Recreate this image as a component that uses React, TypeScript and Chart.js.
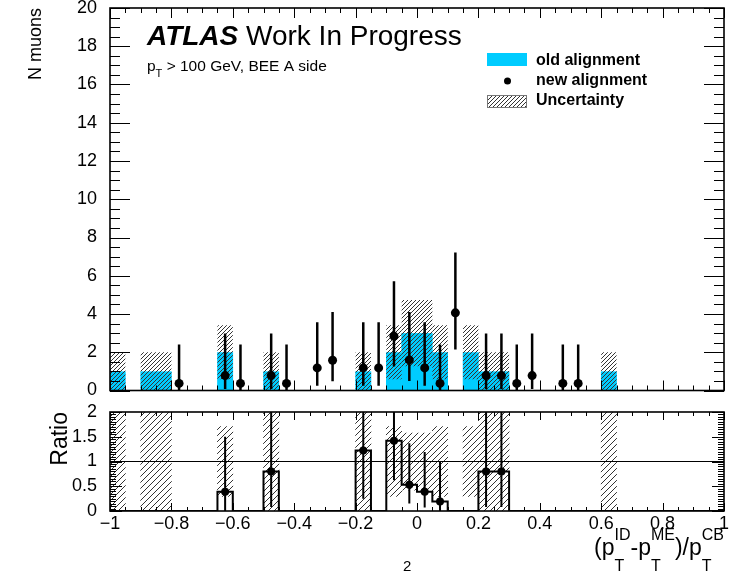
import React, { useEffect, useRef } from 'react';
import { Chart, registerables } from 'chart.js';

Chart.register(...registerables);

// ---------------- data ----------------
const binEdges = [
  -1, -0.95, -0.9, -0.85, -0.8, -0.75, -0.7, -0.65, -0.6, -0.55,
  -0.5, -0.45, -0.4, -0.35, -0.3, -0.25, -0.2, -0.15, -0.1, -0.05,
  0, 0.05, 0.1, 0.15, 0.2, 0.25, 0.3, 0.35, 0.4, 0.45,
  0.5, 0.55, 0.6, 0.65, 0.7, 0.75, 0.8, 0.85, 0.9, 0.95, 1,
];

const oldAlignment = [
  1, 0, 1, 1, 0, 0, 0, 2, 0, 0,
  1, 0, 0, 0, 0, 0, 1, 0, 2, 3,
  3, 2, 0, 2, 1, 1, 0, 0, 0, 0,
  0, 0, 1, 0, 0, 0, 0, 0, 0, 0,
];

const oldUncertainty = [
  1, 0, 1, 1, 0, 0, 0, 1.41, 0, 0,
  1, 0, 0, 0, 0, 0, 1, 0, 1.41, 1.73,
  1.73, 1.41, 0, 1.41, 1, 1, 0, 0, 0, 0,
  0, 0, 1, 0, 0, 0, 0, 0, 0, 0,
];

const newAlignment = [
  0, 0, 0, 0, 0.37, 0, 0, 0.78, 0.37, 0,
  0.78, 0.37, 0, 1.18, 1.58, 0, 1.18, 1.18, 2.84, 1.6,
  1.18, 0.37, 4.06, 0, 0.78, 0.78, 0.37, 0.78, 0, 0.37,
  0.37, 0, 0, 0, 0, 0, 0, 0, 0, 0,
];

const newErrUp = [
  0, 0, 0, 0, 2.03, 0, 0, 2.2, 2.03, 0,
  2.2, 2.03, 0, 2.39, 2.53, 0, 2.39, 2.39, 2.87, 2.51,
  2.39, 2.03, 3.16, 0, 2.2, 2.2, 2.03, 2.2, 0, 2.03,
  2.03, 0, 0, 0, 0, 0, 0, 0, 0, 0,
];

const newErrDown = [
  0, 0, 0, 0, 0.36, 0, 0, 0.7, 0.36, 0,
  0.7, 0.36, 0, 0.93, 1.09, 0, 0.93, 0.93, 1.58, 1.1,
  0.93, 0.36, 1.92, 0, 0.7, 0.7, 0.36, 0.7, 0, 0.36,
  0.36, 0, 0, 0, 0, 0, 0, 0, 0, 0,
];

const ratioValues = [
  0, 0, 0, 0, 0, 0, 0, 0.39, 0, 0,
  0.8, 0, 0, 0, 0, 0, 1.22, 0, 1.42, 0.53,
  0.39, 0.19, 0, 0, 0.8, 0.8, 0, 0, 0, 0,
  0, 0, 0, 0, 0, 0, 0, 0, 0, 0,
];

const ratioErrUp = [
  0, 0, 0, 0, 0, 0, 0, 1.11, 0, 0,
  2.2, 0, 0, 0, 0, 0, 2.35, 0, 1.43, 0.84,
  0.8, 0.82, 0, 0, 2.2, 2.2, 0, 0, 0, 0,
  0, 0, 0, 0, 0, 0, 0, 0, 0, 0,
];

const ratioErrDown = [
  0, 0, 0, 0, 0, 0, 0, 0.39, 0, 0,
  0.72, 0, 0, 0, 0, 0, 0.97, 0, 0.8, 0.38,
  0.32, 0.19, 0, 0, 0.72, 0.72, 0, 0, 0, 0,
  0, 0, 0, 0, 0, 0, 0, 0, 0, 0,
];

const xTickValues = [-1, -0.8, -0.6, -0.4, -0.2, 0, 0.2, 0.4, 0.6, 0.8, 1];
const yTickValuesMain = [0, 2, 4, 6, 8, 10, 12, 14, 16, 18, 20];
const yTickValuesRatio = [0, 0.5, 1, 1.5, 2];

// ---------------- style ----------------
const FONT = '"Liberation Sans", Arial, Helvetica, sans-serif';
const CYAN = '#00ccff';
const HATCH = '#333333';
const BOT_TOP = 395;

function fmt(v: number) {
  const r = Math.round(v * 100) / 100;
  if (r === 0) return '0';
  const s = String(Math.abs(r));
  return r < 0 ? '\u2212' + s : s;
}

function makeHatch(s: number, color: string, lw: number) {
  const c = document.createElement('canvas');
  c.width = s;
  c.height = s;
  const g = c.getContext('2d')!;
  g.strokeStyle = color;
  g.lineWidth = lw;
  g.beginPath();
  g.moveTo(0, s);
  g.lineTo(s, 0);
  g.moveTo(-1, 1);
  g.lineTo(1, -1);
  g.moveTo(s - 1, s + 1);
  g.lineTo(s + 1, s - 1);
  g.stroke();
  return g.createPattern(c, 'repeat')!;
}

const centers = binEdges.slice(0, -1).map((e, i) => (e + binEdges[i + 1]) / 2);

function stepData(vals: number[]) {
  const pts = vals.map((v, i) => ({ x: binEdges[i], y: v }));
  pts.push({ x: binEdges[vals.length], y: vals[vals.length - 1] });
  return pts;
}

function pointData(vals: number[]) {
  const out: { x: number; y: number }[] = [];
  vals.forEach((v, i) => {
    if (v > 0) out.push({ x: centers[i], y: v });
  });
  return out;
}

function errData(vals: number[], up: number[], down: number[]) {
  const out: { x: number; y: number | null }[] = [];
  vals.forEach((v, i) => {
    if (v > 0) {
      out.push({ x: centers[i], y: v - down[i] });
      out.push({ x: centers[i], y: v + up[i] });
      out.push({ x: centers[i], y: null });
    }
  });
  return out;
}

function floatData(low: number[], high: number[]) {
  return low.map((l, i) => ({ x: centers[i], y: high[i] - l > 1e-9 ? [l, high[i]] : null }));
}

const barStyle = {
  type: 'bar',
  grouped: false,
  barPercentage: 1,
  categoryPercentage: 1,
  borderWidth: 0,
};

// old-alignment histogram (cyan) + hatched uncertainty band, drawn through the chart scales
// before the datasets (error bars, points) so they stay on top
function histBandPlugin(values: number[], low: number[], high: number[], spacing: number) {
  return {
    id: 'histBand',
    beforeDatasetsDraw(chart: any) {
      const ctx = chart.ctx as CanvasRenderingContext2D;
      const xs = chart.scales.x;
      const ys = chart.scales.y;
      const a = chart.chartArea;
      ctx.save();
      ctx.beginPath();
      ctx.rect(a.left, a.top, a.right - a.left, a.bottom - a.top);
      ctx.clip();
      // cyan histogram
      ctx.fillStyle = CYAN;
      values.forEach((v, i) => {
        if (!(v > 0)) return;
        const x0 = xs.getPixelForValue(binEdges[i]);
        const x1 = xs.getPixelForValue(binEdges[i + 1]);
        const y0 = ys.getPixelForValue(v);
        const y1 = ys.getPixelForValue(0);
        ctx.fillRect(x0 - 0.3, y0, x1 - x0 + 0.6, y1 - y0);
      });
      // hatched band
      ctx.strokeStyle = HATCH;
      ctx.lineWidth = 1;
      low.forEach((l, i) => {
        const h = high[i];
        if (!(h - l > 1e-9)) return;
        const x0 = xs.getPixelForValue(binEdges[i]);
        const x1 = xs.getPixelForValue(binEdges[i + 1]);
        const y0 = ys.getPixelForValue(h);
        const y1 = ys.getPixelForValue(l);
        ctx.save();
        ctx.beginPath();
        ctx.rect(x0, y0, x1 - x0, y1 - y0);
        ctx.clip();
        ctx.beginPath();
        const start = Math.floor((x0 + y0) / spacing) * spacing;
        for (let c = start; c <= x1 + y1 + spacing; c += spacing) {
          ctx.moveTo(c - y1 - 2, y1 + 2);
          ctx.lineTo(c - y0 + 2, y0 - 2);
        }
        ctx.stroke();
        ctx.restore();
      });
      ctx.restore();
    },
  };
}

function framePlugin(cfg: any) {
  return {
    id: 'frameTicks',
    afterDatasetsDraw(chart: any) {
      const { ctx, chartArea: a } = chart;
      const xs = chart.scales.x;
      const ys = chart.scales.y;
      ctx.save();
      ctx.strokeStyle = '#000';
      ctx.lineWidth = 1;
      ctx.beginPath();
      const nY = Math.round((ys.max - ys.min) / cfg.yMinor);
      for (let k = 0; k <= nY; k++) {
        const v = ys.min + k * cfg.yMinor;
        const major = Math.abs(v / cfg.yMajor - Math.round(v / cfg.yMajor)) < 1e-6;
        const len = major ? cfg.yMajorLen : cfg.yMinorLen;
        const py = Math.round(ys.getPixelForValue(v)) + 0.5;
        ctx.moveTo(a.left, py);
        ctx.lineTo(a.left + len, py);
        ctx.moveTo(a.right, py);
        ctx.lineTo(a.right - len, py);
      }
      const nX = Math.round((xs.max - xs.min) / cfg.xMinor);
      for (let k = 0; k <= nX; k++) {
        const v = xs.min + k * cfg.xMinor;
        const major = Math.abs(v / cfg.xMajor - Math.round(v / cfg.xMajor)) < 1e-6;
        const len = major ? cfg.xMajorLen : cfg.xMinorLen;
        const px = Math.round(xs.getPixelForValue(v)) + 0.5;
        ctx.moveTo(px, a.bottom);
        ctx.lineTo(px, a.bottom - len);
        ctx.moveTo(px, a.top);
        ctx.lineTo(px, a.top + len);
      }
      ctx.stroke();
      ctx.lineWidth = cfg.frameWidth;
      ctx.strokeRect(a.left, a.top, a.right - a.left, a.bottom - a.top);
      ctx.restore();
    },
  };
}

function topTextPlugin(hatch: CanvasPattern) {
  return {
    id: 'topText',
    afterDraw(chart: any) {
      const ctx = chart.ctx as CanvasRenderingContext2D;
      ctx.save();
      ctx.fillStyle = '#000';
      ctx.textBaseline = 'alphabetic';
      ctx.textAlign = 'left';
      ctx.font = `italic bold 28px ${FONT}`;
      ctx.fillText('ATLAS', 147, 45);
      ctx.font = `28px ${FONT}`;
      ctx.fillText('Work In Progress', 246, 45);

      ctx.font = `15.5px ${FONT}`;
      let x = 147;
      ctx.fillText('p', x, 71);
      x += ctx.measureText('p').width;
      ctx.font = `11px ${FONT}`;
      ctx.fillText('T', x, 77);
      x += ctx.measureText('T').width;
      ctx.font = `15.5px ${FONT}`;
      ctx.fillText(' > 100 GeV, BEE A side', x, 71);

      // legend
      ctx.fillStyle = CYAN;
      ctx.fillRect(487, 53, 40, 13);
      ctx.fillStyle = '#000';
      ctx.beginPath();
      ctx.arc(507.5, 81, 3.5, 0, Math.PI * 2);
      ctx.fill();
      ctx.fillStyle = hatch;
      ctx.fillRect(487, 95, 40, 13);
      ctx.strokeStyle = '#777';
      ctx.lineWidth = 1;
      ctx.strokeRect(487.5, 95.5, 39, 12);

      ctx.fillStyle = '#000';
      ctx.font = `bold 16px ${FONT}`;
      ctx.fillText('old alignment', 536, 65);
      ctx.fillText('new alignment', 536, 85);
      ctx.fillText('Uncertainty', 536, 105);
      ctx.restore();
    },
  };
}

function botTextPlugin() {
  return {
    id: 'botText',
    afterDraw(chart: any) {
      const ctx = chart.ctx as CanvasRenderingContext2D;
      const oy = BOT_TOP;
      const main = 23;
      const scr = 16;
      const base = 555 - oy;
      const supY = 540 - oy;
      const subY = 571 - oy;
      const items: any[] = [
        { t: '(p' },
        { sup: 'ID', sub: 'T' },
        { t: '-p' },
        { sup: 'ME', sub: 'T' },
        { t: ')/p' },
        { sup: 'CB', sub: 'T' },
      ];
      ctx.save();
      ctx.fillStyle = '#000';
      ctx.textBaseline = 'alphabetic';
      ctx.textAlign = 'left';
      const widths = items.map((it) => {
        if (it.t) {
          ctx.font = `${main}px ${FONT}`;
          return ctx.measureText(it.t).width;
        }
        ctx.font = `${scr}px ${FONT}`;
        return Math.max(ctx.measureText(it.sup).width, ctx.measureText(it.sub).width);
      });
      const total = widths.reduce((s, w) => s + w, 0);
      let x = 724 - total;
      items.forEach((it, i) => {
        if (it.t) {
          ctx.font = `${main}px ${FONT}`;
          ctx.fillText(it.t, x, base);
        } else {
          ctx.font = `${scr}px ${FONT}`;
          ctx.fillText(it.sup, x, supY);
          ctx.fillText(it.sub, x, subY);
        }
        x += widths[i];
      });
      ctx.font = `15px ${FONT}`;
      ctx.fillText('2', 403, 570.5 - oy);
      ctx.restore();
    },
  };
}

export default function App() {
  const topRef = useRef<HTMLCanvasElement>(null);
  const botRef = useRef<HTMLCanvasElement>(null);

  useEffect(() => {
    Chart.defaults.font.family = FONT;
    Chart.defaults.color = '#000';
    const hatchLegend = makeHatch(4, HATCH, 1);
    const hatchRatio = makeHatch(6, HATCH, 1);

    const bandLow = oldAlignment.map((v, i) => Math.max(0, v - oldUncertainty[i]));
    const bandHigh = oldAlignment.map((v, i) => v + oldUncertainty[i]);
    const rLow = oldAlignment.map((v, i) => (v > 0 ? 1 - oldUncertainty[i] / v : 1));
    const rHigh = oldAlignment.map((v, i) => (v > 0 ? 1 + oldUncertainty[i] / v : 1));

    const common: any = {
      responsive: false,
      animation: false,
      events: [],
      plugins: { legend: { display: false }, tooltip: { enabled: false } },
      elements: { line: { tension: 0 }, point: { radius: 0 } },
    };

    const top = new Chart(topRef.current!, {
      type: 'line',
      data: {
        datasets: [
          {
            data: pointData(newAlignment),
            showLine: false,
            pointRadius: 4.5,
            pointBackgroundColor: '#000',
            pointBorderWidth: 0,
            order: 0,
          },
          {
            data: errData(newAlignment, newErrUp, newErrDown),
            showLine: true,
            spanGaps: false,
            borderColor: '#000',
            borderWidth: 2.5,
            pointRadius: 0,
            order: 1,
          },
        ],
      },
      options: {
        ...common,
        layout: { padding: { left: 0, right: 20, top: 8, bottom: 0 } },
        scales: {
          x: {
            type: 'linear',
            min: -1,
            max: 1,
            offset: false,
            ticks: { display: false },
            grid: { display: false },
            border: { display: false },
            afterFit(s: any) {
              s.height = 3;
              s.paddingLeft = 0;
              s.paddingRight = 0;
            },
          },
          y: {
            type: 'linear',
            min: 0,
            max: 20,
            afterBuildTicks(s: any) {
              s.ticks = yTickValuesMain.map((v) => ({ value: v }));
            },
            afterFit(s: any) {
              s.width = 110;
              s.paddingTop = 0;
              s.paddingBottom = 0;
            },
            ticks: { font: { size: 18 }, color: '#000', padding: 5, autoSkip: false, callback: (v: any) => fmt(Number(v)) },
            grid: { display: false },
            border: { display: false },
            title: {
              display: true,
              text: 'N muons',
              align: 'end',
              color: '#000',
              font: { size: 18 },
              padding: { top: 25, bottom: 0 },
            },
          },
        },
      },
      plugins: [
        histBandPlugin(oldAlignment, bandLow, bandHigh, 4),
        framePlugin({ yMajor: 2, yMinor: 0.5, yMajorLen: 20, yMinorLen: 10, xMajor: 0.2, xMinor: 0.05, xMajorLen: 10, xMinorLen: 5, frameWidth: 1.6 }),
        topTextPlugin(hatchLegend),
      ],
    } as any);

    const bot = new Chart(botRef.current!, {
      type: 'line',
      data: {
        datasets: [
          {
            data: pointData(ratioValues),
            showLine: false,
            pointRadius: 4,
            pointBackgroundColor: '#000',
            pointBorderWidth: 0,
            order: 0,
          },
          {
            data: errData(ratioValues, ratioErrUp, ratioErrDown),
            showLine: true,
            spanGaps: false,
            borderColor: '#000',
            borderWidth: 2,
            pointRadius: 0,
            order: 1,
          },
          {
            data: stepData(ratioValues),
            stepped: true,
            borderColor: '#000',
            borderWidth: 2,
            pointRadius: 0,
            fill: false,
            order: 2,
          },
          {
            data: [
              { x: binEdges[0], y: 1 },
              { x: binEdges[binEdges.length - 1], y: 1 },
            ],
            borderColor: '#000',
            borderWidth: 1,
            pointRadius: 0,
            fill: false,
            order: 3,
          },
          {
            ...barStyle,
            data: floatData(rLow, rHigh),
            backgroundColor: hatchRatio,
            order: 4,
          },
        ],
      },
      options: {
        ...common,
        layout: { padding: { left: 0, right: 20, top: 412 - BOT_TOP, bottom: 0 } },
        scales: {
          x: {
            type: 'linear',
            min: -1,
            max: 1,
            offset: false,
            afterBuildTicks(s: any) {
              s.ticks = xTickValues.map((v) => ({ value: v }));
            },
            afterFit(s: any) {
              s.height = 574 - 511;
              s.paddingLeft = 0;
              s.paddingRight = 0;
            },
            ticks: { font: { size: 18 }, color: '#000', padding: -6, autoSkip: false, maxRotation: 0, callback: (v: any) => fmt(Number(v)) },
            grid: { display: false },
            border: { display: false },
          },
          y: {
            type: 'linear',
            min: 0,
            max: 2,
            afterBuildTicks(s: any) {
              s.ticks = yTickValuesRatio.map((v) => ({ value: v }));
            },
            afterFit(s: any) {
              s.width = 110;
              s.paddingTop = 0;
              s.paddingBottom = 0;
            },
            ticks: { font: { size: 18 }, color: '#000', padding: 5, autoSkip: false, callback: (v: any) => fmt(Number(v)) },
            grid: { display: false },
            border: { display: false },
            title: {
              display: true,
              text: 'Ratio',
              align: 'end',
              color: '#000',
              font: { size: 23 },
              padding: { top: 47, bottom: 0 },
            },
          },
        },
      },
      plugins: [
        framePlugin({ yMajor: 0.5, yMinor: 0.05, yMajorLen: 12, yMinorLen: 6, xMajor: 0.2, xMinor: 0.05, xMajorLen: 8, xMinorLen: 4, frameWidth: 1.6 }),
        botTextPlugin(),
      ],
    } as any);

    return () => {
      top.destroy();
      bot.destroy();
    };
  }, []);

  return (
    <div style={{ position: 'fixed', left: 0, top: 0, width: 744, height: 574, background: '#fff' }}>
      <canvas ref={topRef} width={744} height={BOT_TOP} style={{ position: 'absolute', left: 0, top: 0 }} />
      <canvas ref={botRef} width={744} height={574 - BOT_TOP} style={{ position: 'absolute', left: 0, top: BOT_TOP }} />
    </div>
  );
}
